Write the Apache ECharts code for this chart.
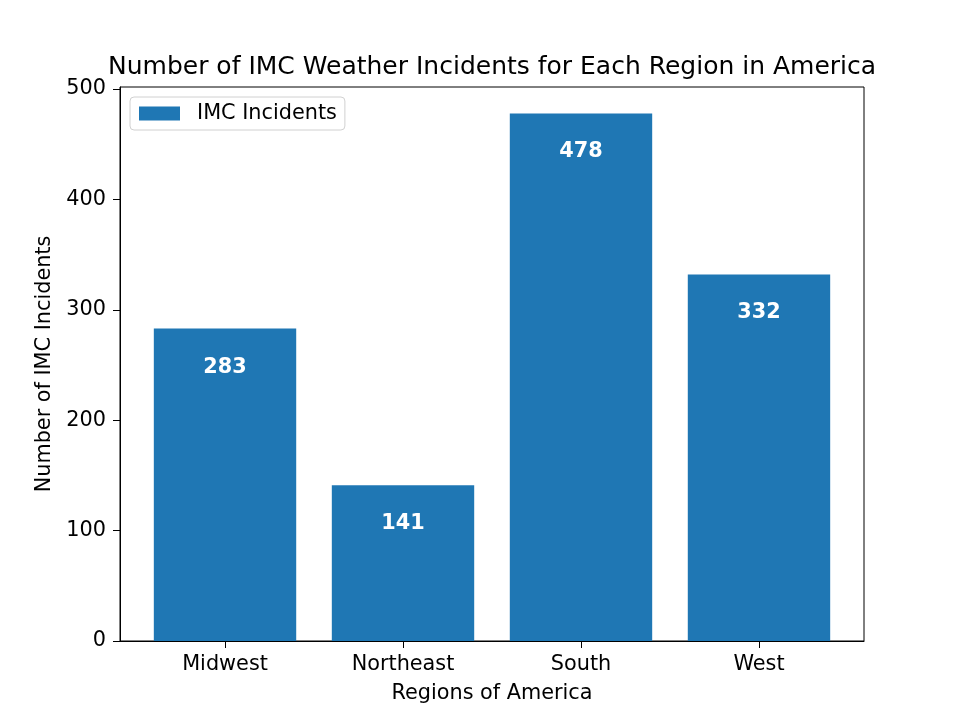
<!DOCTYPE html>
<html><head><meta charset="utf-8">
<script src="https://cdn.jsdelivr.net/npm/echarts@6/dist/echarts.min.js"></script>
<style>html,body{margin:0;padding:0;background:#fff}#c{width:960px;height:720px}</style>
</head><body><div id="c"></div>
<script>
const categories = ["Midwest", "Northeast", "South", "West"];
const incidents = [283, 141, 478, 332];
const yTicks = [0, 100, 200, 300, 400, 500];

const positions = categories.map((_, i) => i);
const chart = echarts.init(document.getElementById('c'), null, {renderer: 'canvas'});
const font = "DejaVu Sans";
const fs = 20.8;
const xMin = -0.59, xMax = 3.59;
const gridLeft = 120, gridRight = 96;
const plotW = 960 - gridLeft - gridRight;
const barW = 0.8 * plotW / (xMax - xMin);
const yMax = Math.max(...incidents) * 1.05;

chart.setOption({
  animation: false,
  title: {
    text: 'Number of IMC Weather Incidents for Each Region in America',
    left: 103, top: 50,
    textStyle: {fontFamily: font, fontSize: 25, fontWeight: 'normal', color: '#000'}
  },
  legend: {
    left: 130, top: 97,
    padding: [6, 8, 6, 9],
    itemWidth: 41, itemHeight: 14, itemGap: 10,
    icon: 'rect',
    borderColor: '#d0d0d0', borderWidth: 1, borderRadius: 4,
    backgroundColor: '#fff',
    textStyle: {fontFamily: font, fontSize: fs, color: '#000', padding: [0,0,0,12]},
    data: ['IMC Incidents']
  },
  grid: {left: gridLeft, right: gridRight, top: 87, bottom: 79, show: true,
         borderColor: '#000', borderWidth: 1, backgroundColor: 'transparent'},
  xAxis: {
    type: 'value', min: xMin, max: xMax,
    name: 'Regions of America', nameLocation: 'middle', nameGap: 42,
    nameTextStyle: {fontFamily: font, fontSize: fs, color: '#000'},
    axisLine: {show: true, onZero: false, lineStyle: {color: '#000', width: 1}},
    axisTick: {show: true, length: 7, lineStyle: {color: '#000'}, customValues: positions},
    axisLabel: {show: true, customValues: positions, margin: 13,
      fontFamily: font, fontSize: fs, color: '#000',
      formatter: v => categories[Math.round(v)]},
    splitLine: {show: false}
  },
  yAxis: {
    type: 'value', min: 0, max: yMax,
    name: 'Number of IMC Incidents', nameLocation: 'middle', nameGap: 63, nameRotate: 90,
    nameTextStyle: {fontFamily: font, fontSize: fs, color: '#000'},
    axisLine: {show: true, onZero: false, lineStyle: {color: '#000', width: 1}},
    axisTick: {show: true, length: 7, lineStyle: {color: '#000'}, customValues: yTicks},
    axisLabel: {show: true, customValues: yTicks, margin: 14,
      fontFamily: font, fontSize: fs, color: '#000'},
    splitLine: {show: false}
  },
  series: [{
    name: 'IMC Incidents',
    type: 'bar',
    barWidth: barW,
    itemStyle: {color: '#1f77b4'},
    data: positions.map((p, i) => [p, incidents[i]]),
    label: {
      show: true, position: 'insideTop', distance: 28,
      fontFamily: font, fontSize: fs, fontWeight: 'bold', color: '#fff',
      formatter: p => p.value[1]
    }
  }]
});
</script></body></html>
